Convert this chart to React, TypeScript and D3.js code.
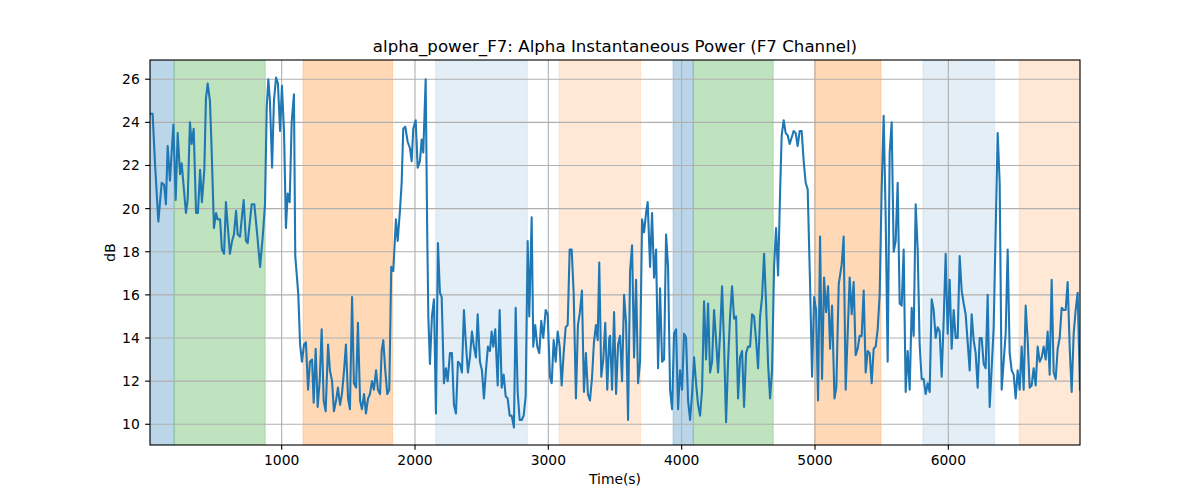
import React from "react";
import * as d3 from "d3";

// samples, time in seconds
const TIME_S = [
  12.5, 32, 50, 75, 100, 118, 132, 145, 162, 188,
  205, 220, 238, 250, 282, 295, 312, 325, 340, 358,
  372, 388, 402, 420, 432, 445, 462, 475, 492, 508,
  520, 538, 552, 568, 582, 598, 612, 628, 642, 658,
  670, 688, 700, 715, 732, 745, 775, 795, 818, 838,
  858, 875, 888, 900, 912, 928, 942, 958, 972, 988,
  1002, 1018, 1032, 1045, 1060, 1075, 1092, 1102, 1125, 1138,
  1152, 1168, 1182, 1198, 1212, 1228, 1240, 1255, 1270, 1285,
  1300, 1315, 1330, 1348, 1362, 1378, 1392, 1408, 1422, 1438,
  1452, 1468, 1482, 1498, 1512, 1528, 1542, 1558, 1572, 1588,
  1602, 1618, 1632, 1648, 1662, 1678, 1692, 1708, 1722, 1738,
  1750, 1762, 1777, 1792, 1807, 1822, 1837, 1857, 1870, 1887,
  1900, 1912, 1927, 1945, 1962, 1975, 1987, 2005, 2020, 2037,
  2050, 2062, 2080, 2092, 2100, 2112, 2127, 2142, 2157, 2172,
  2187, 2200, 2217, 2232, 2245, 2262, 2277, 2292, 2307, 2322,
  2337, 2352, 2367, 2382, 2397, 2412, 2427, 2442, 2457, 2470,
  2487, 2502, 2517, 2532, 2547, 2562, 2575, 2587, 2602, 2620,
  2635, 2650, 2665, 2680, 2695, 2710, 2725, 2742, 2755, 2770,
  2785, 2800, 2815, 2830, 2845, 2857, 2875, 2887, 2902, 2917,
  2932, 2947, 2962, 2980, 2995, 3012, 3025, 3040, 3055, 3070,
  3085, 3100, 3115, 3130, 3145, 3160, 3175, 3190, 3207, 3222,
  3237, 3252, 3267, 3282, 3297, 3312, 3327, 3342, 3357, 3370,
  3382, 3397, 3412, 3427, 3442, 3457,
  3463, 3478, 3493, 3508, 3523, 3538, 3553, 3568, 3583, 3598,
  3613, 3628, 3643, 3658, 3673, 3688, 3703, 3718, 3733, 3745,
  3763, 3778, 3793, 3808, 3823, 3838, 3853, 3868, 3883, 3898,
  3913, 3928, 3943, 3958, 3973, 3988, 4003, 4018, 4033, 4048,
  4063, 4078, 4093, 4108, 4123, 4138, 4153, 4168, 4183, 4198,
  4213, 4228, 4243, 4258, 4273, 4288, 4303, 4318, 4333, 4348,
  4363, 4378, 4393, 4408, 4423, 4438, 4453, 4468, 4483, 4498,
  4513, 4528, 4543, 4558, 4573, 4588, 4603, 4618, 4633, 4648,
  4663, 4678, 4693, 4708, 4723, 4738, 4750, 4765, 4780, 4795,
  4810, 4825, 4840, 4855, 4870, 4885, 4900, 4915, 4930, 4945,
  4963, 4978, 4993, 5008, 5023, 5038, 5053, 5068, 5083, 5098,
  5113, 5128, 5146, 5160, 5178,
  5200, 5215, 5230, 5245, 5260, 5275, 5290, 5305, 5320, 5335,
  5350, 5365, 5380, 5395, 5410, 5425, 5440, 5455, 5470, 5485,
  5500, 5515, 5530, 5545, 5560, 5575, 5590, 5605, 5620, 5635,
  5650, 5665, 5680, 5695, 5710, 5725, 5740, 5755, 5770, 5785,
  5800, 5815, 5830, 5845, 5860, 5875, 5890, 5905, 5920, 5935,
  5950, 5965, 5980, 5995, 6010, 6025, 6040, 6055, 6070, 6085,
  6100, 6115, 6130, 6145, 6160, 6175, 6190, 6205, 6220, 6235,
  6250, 6265, 6280, 6295, 6310, 6325, 6340, 6355, 6370, 6385,
  6400, 6415, 6430, 6445, 6460, 6475, 6490, 6505, 6520, 6535,
  6550, 6565, 6580, 6595, 6610, 6625, 6640, 6655, 6670, 6685,
  6700, 6715, 6730, 6745, 6760, 6775, 6790, 6805, 6820, 6835,
  6850, 6865, 6880, 6895, 6910, 6925, 6940, 6955, 6970, 6987.5,
];

const POWER_DB = [
  24.4, 24.4, 22.1, 19.4, 21.2, 21.1, 20.2, 22.9, 21.3, 23.9,
  20.4, 23.5, 21.6, 22.1, 19.8, 20.4, 24.0, 23.0, 23.7, 19.8,
  19.8, 21.8, 20.3, 21.8, 25.1, 25.8, 25.0, 22.7, 19.1, 19.8,
  19.5, 19.5, 18.1, 17.9, 20.3, 19.0, 17.9, 18.5, 18.8, 19.9,
  18.8, 18.7, 19.5, 20.4, 18.5, 18.4, 20.2, 20.2, 18.7, 17.3,
  18.7, 20.2, 24.7, 26.0, 25.0, 21.9, 25.0, 26.08, 25.8, 23.6,
  25.7, 23.5, 19.1, 20.7, 20.3, 24.0, 25.3, 17.8, 16.0, 13.7,
  12.9, 13.7, 13.8, 11.6, 12.9, 13.0, 11.0, 13.5, 10.8, 12.0,
  14.4, 11.1, 10.6, 13.7, 12.5, 12.0, 10.6, 11.1, 11.7, 10.9,
  11.4, 12.5, 13.7, 11.2, 10.7, 15.9, 11.9, 11.7, 14.7, 11.1,
  10.7, 11.4, 10.5, 11.2, 11.4, 12.0, 11.6, 12.5, 11.6, 11.4,
  13.4, 13.9, 12.5, 11.4, 11.6, 17.3, 17.1, 19.5, 18.5, 19.9,
  21.2, 23.7, 23.8, 23.1, 22.8, 22.2, 23.7, 24.1, 21.9, 22.2,
  23.2, 22.6, 26.0, 18.7, 15.0, 12.8, 15.0, 15.8, 10.5, 18.4,
  16.1, 15.9, 11.9, 12.6, 12.0, 13.3, 13.3, 10.9, 10.5, 12.9,
  12.8, 12.4, 15.3, 13.7, 12.4, 13.1, 14.3, 13.6, 13.1, 15.1,
  12.9, 12.5, 11.2, 12.5, 13.6, 13.4, 14.3, 13.6, 14.4, 11.8,
  15.3, 11.7, 12.3, 11.3, 11.2, 10.4, 10.4, 9.85, 15.4, 11.5,
  10.2, 10.2, 10.4, 11.3, 18.5, 15.0, 19.6, 13.6, 14.6, 13.6,
  13.3, 14.8, 14.0, 15.3, 15.1, 12.2, 11.9, 13.9, 12.9, 14.3,
  13.6, 11.8, 13.3, 14.5, 14.6, 18.1, 18.1, 16.1, 11.2, 14.6,
  15.2, 16.2, 11.5, 13.3, 11.4, 11.1, 12.1, 13.8, 14.6, 13.9,
  17.5, 12.2, 13.0, 14.7, 11.6, 14.0,
  14.1, 11.6, 15.2, 11.4, 13.7, 14.1, 12.0, 16.0, 14.7, 10.2,
  17.1, 18.3, 13.1, 16.7, 11.9, 12.9, 19.5, 18.9, 19.8, 20.3,
  17.3, 19.8, 16.8, 18.1, 12.6, 16.3, 12.9, 13.0, 18.8, 17.3,
  11.6, 10.7, 14.2, 14.4, 10.7, 12.5, 11.6, 14.2, 14.0, 11.1,
  10.2, 11.4, 13.1, 11.9, 10.9, 10.4, 11.6, 15.7, 13.0, 15.6,
  12.4, 12.9, 15.3, 13.9, 12.4, 14.2, 16.4, 13.7, 10.1, 12.9,
  15.0, 16.4, 14.9, 15.0, 11.2, 13.1, 13.4, 10.8, 13.3, 13.6,
  13.6, 15.1, 15.0, 13.9, 12.6, 15.0, 15.9, 17.9, 15.6, 12.8,
  11.2, 12.5, 17.3, 19.1, 16.9, 20.7, 23.4, 24.1, 23.5, 23.4,
  23.0, 23.3, 23.6, 23.5, 22.9, 23.6, 23.6, 22.2, 21.2, 20.9,
  16.5, 12.2, 15.9, 15.3, 11.1, 18.7, 12.1, 16.8, 15.2, 16.4,
  13.5, 15.5, 11.2, 11.7, 16.5,
  17.4, 18.7, 11.6, 14.2, 16.8, 15.1, 16.6, 13.2, 13.5, 14.1,
  14.1, 16.2, 12.4, 13.4, 13.3, 11.9, 13.5, 13.6, 14.4, 16.0,
  20.9, 24.3, 19.6, 12.9, 22.6, 24.0, 18.0, 18.5, 21.2, 15.6,
  15.5, 18.1, 11.5, 13.4, 11.6, 15.4, 14.1, 20.2, 18.1, 13.7,
  12.1, 12.1, 11.4, 11.9, 11.5, 15.8, 15.3, 14.0, 14.5, 14.3,
  12.2, 14.8, 17.9, 14.2, 16.7, 13.5, 15.3, 14.0, 14.0, 17.8,
  16.2, 15.6, 15.1, 13.8, 12.5, 15.1, 13.9, 13.3, 11.7, 14.0,
  14.0, 12.8, 12.6, 16.0, 10.8, 12.6, 14.5, 19.0, 23.5, 21.2,
  11.6, 12.9, 14.2, 18.1, 13.3, 12.5, 12.3, 11.2, 12.5, 11.6,
  13.6, 11.6, 15.5, 13.9, 11.7, 11.8, 12.6, 11.8, 13.6, 12.9,
  13.1, 13.6, 13.0, 14.3, 12.3, 16.7, 12.4, 12.1, 13.5, 14.0,
  15.4, 15.3, 15.3, 16.6, 13.6, 11.5, 14.2, 15.3, 16.1, 11.6,
];

// shaded phases
const SPAN_START = [12.5, 194, 1160, 2155, 3080, 3935, 4087, 4996, 5809, 6530];
const SPAN_END = [194, 877, 1832, 2843, 3692, 4087, 4687, 5495, 6347, 6987.5];
const SPAN_COLOR = [
  "#1f77b4", "#2ca02c", "#ff7f0e", "#1f77b4", "#ff7f0e",
  "#1f77b4", "#2ca02c", "#ff7f0e", "#1f77b4", "#ff7f0e",
];
const SPAN_ALPHA = [0.3, 0.3, 0.3, 0.12, 0.17, 0.3, 0.3, 0.3, 0.12, 0.17];

const X_TICKS = [1000, 2000, 3000, 4000, 5000, 6000];
const Y_TICKS = [10, 12, 14, 16, 18, 20, 22, 24, 26];

const WIDTH = 1200;
const HEIGHT = 500;
const margin = { top: 60, right: 120, bottom: 55, left: 150 };
const FONT = "'DejaVu Sans', sans-serif";
const PT = 100 / 72; // matplotlib points to pixels at 100 dpi

const App: React.FC = () => {
  const plotW = WIDTH - margin.left - margin.right;
  const plotH = HEIGHT - margin.top - margin.bottom;

  const x = d3
    .scaleLinear()
    .domain([TIME_S[0], TIME_S[TIME_S.length - 1]])
    .range([margin.left, margin.left + plotW]);

  // matplotlib style 5% padding around the data
  const [yMin, yMax] = d3.extent(POWER_DB) as [number, number];
  const pad = (yMax - yMin) * 0.05;
  const y = d3
    .scaleLinear()
    .domain([yMin - pad, yMax + pad])
    .range([margin.top + plotH, margin.top]);

  const points = TIME_S.map((t, i) => [t, POWER_DB[i]] as [number, number]);
  const line = d3
    .line<[number, number]>()
    .x((d) => x(d[0]))
    .y((d) => y(d[1]));

  const bottom = margin.top + plotH;
  const tick = 3.5 * PT;

  return (
    <div style={{ position: "absolute", left: 0, top: 0 }}>
      <svg width={WIDTH} height={HEIGHT} style={{ display: "block", fontFamily: FONT }}>
        <rect width={WIDTH} height={HEIGHT} fill="#ffffff" />
        <defs>
          <clipPath id="plot-clip">
            <rect x={margin.left} y={margin.top} width={plotW} height={plotH} />
          </clipPath>
        </defs>

        <g clipPath="url(#plot-clip)">
          {SPAN_START.map((s, i) => (
            <rect
              key={"span" + i}
              x={x(s)}
              y={margin.top}
              width={x(SPAN_END[i]) - x(s)}
              height={plotH}
              fill={SPAN_COLOR[i]}
              fillOpacity={SPAN_ALPHA[i]}
              stroke={SPAN_COLOR[i]}
              strokeOpacity={SPAN_ALPHA[i] * 0.8}
              strokeWidth={1}
            />
          ))}

          {X_TICKS.map((t) => (
            <line key={"gx" + t} x1={x(t)} x2={x(t)} y1={margin.top} y2={bottom} stroke="#b0b0b0" strokeWidth={0.8 * PT} />
          ))}
          {Y_TICKS.map((v) => (
            <line key={"gy" + v} x1={margin.left} x2={margin.left + plotW} y1={y(v)} y2={y(v)} stroke="#b0b0b0" strokeWidth={0.8 * PT} />
          ))}

          <path
            d={line(points) ?? ""}
            fill="none"
            stroke="#1f77b4"
            strokeWidth={1.5 * PT}
            strokeLinejoin="round"
            strokeLinecap="square"
          />
        </g>

        <rect x={margin.left} y={margin.top} width={plotW} height={plotH} fill="none" stroke="#000" strokeWidth={0.8 * PT} />

        {X_TICKS.map((t) => (
          <g key={"xt" + t}>
            <line x1={x(t)} x2={x(t)} y1={bottom} y2={bottom + tick} stroke="#000" strokeWidth={0.8 * PT} />
            <text x={x(t)} y={bottom + 20} textAnchor="middle" fontSize={13.89} fill="#000">
              {t}
            </text>
          </g>
        ))}
        {Y_TICKS.map((v) => (
          <g key={"yt" + v}>
            <line x1={margin.left - tick} x2={margin.left} y1={y(v)} y2={y(v)} stroke="#000" strokeWidth={0.8 * PT} />
            <text x={margin.left - 2 * tick - 0.5} y={y(v)} dy="0.36em" textAnchor="end" fontSize={13.89} fill="#000">
              {v}
            </text>
          </g>
        ))}

        <text x={margin.left + plotW / 2} y={bottom + 39} textAnchor="middle" fontSize={13.89} fill="#000">
          Time(s)
        </text>
        <text
          transform={`translate(${115}, ${margin.top + plotH / 2}) rotate(-90)`}
          textAnchor="middle"
          fontSize={13.89}
          fill="#000"
        >
          dB
        </text>
        <text x={margin.left + plotW / 2} y={margin.top - 8} textAnchor="middle" fontSize={16.67} fill="#000">
          alpha_power_F7: Alpha Instantaneous Power (F7 Channel)
        </text>
      </svg>
    </div>
  );
};

export default App;
